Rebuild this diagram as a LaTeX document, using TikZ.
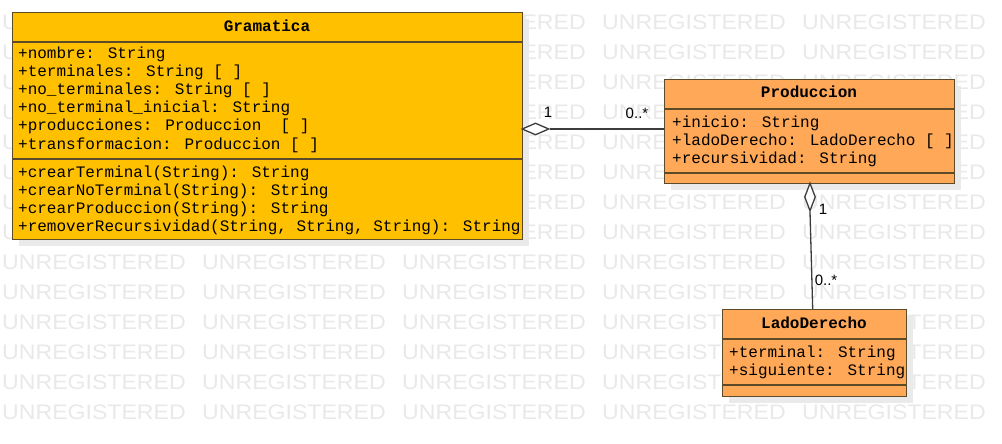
\documentclass[tikz,border=0pt]{standalone}
\usepackage{fontspec}
\setmainfont{Liberation Sans}
\newfontfamily\monof{Liberation Mono}
\usetikzlibrary{shapes.geometric}
\definecolor{gramfill}{RGB}{255,192,0}
\definecolor{prodfill}{RGB}{255,168,88}
\definecolor{edgec}{RGB}{92,74,40}
\definecolor{shadowc}{RGB}{234,234,234}
\definecolor{wmc}{RGB}{233,233,233}
\definecolor{linec}{RGB}{60,60,60}
\tikzset{
 classbox/.style={draw=edgec, line width=1.4pt, inner sep=0pt, anchor=north west},
 shadowbox/.style={fill=shadowc, draw=none, inner sep=0pt, anchor=north west},
 divider/.style={draw=edgec, line width=1.2pt},
 attr/.style={font=\monof\fontsize{16}{18}\selectfont, anchor=base west, inner sep=0pt},
 ctitle/.style={font=\monof\bfseries\fontsize{16}{18}\selectfont, anchor=base, inner sep=0pt},
 wm/.style={font=\fontsize{21}{21}\selectfont, text=wmc, anchor=west, inner sep=0pt, xscale=1.1, transform shape},
 mult/.style={font=\fontsize{15}{15}\selectfont, inner sep=0pt, text=black},
 conn/.style={draw=linec, line width=1.3pt},
 agg/.style={diamond, draw=linec, fill=white, line width=1.3pt, inner sep=0pt},
}
\begin{document}
\begin{tikzpicture}[x=1pt,y=-1pt]
\useasboundingbox (0,0) rectangle (1002,444);
\fill[white] (0,0) rectangle (1002,444);
% watermark
\foreach \r in {0,...,13}{\foreach \c in {0,...,4}{
  \node[wm] (wm-\r-\c) at (2+200*\c, 22+30*\r) {UNREGISTERED};}}
% shadows
\node[shadowbox, minimum width=510, minimum height=227] (gsh) at (19,19) {};
\node[shadowbox, minimum width=290, minimum height=104] (psh) at (671,86) {};
\node[shadowbox, minimum width=184, minimum height=87] (lsh) at (729,316) {};
% Gramatica
\node[classbox, fill=gramfill, minimum width=510, minimum height=227] (gram) at (12,12) {};
\draw[divider] (12,42) -- (522,42);
\draw[divider] (12,159) -- (522,159);
\node[ctitle] (gT) at (267,32) {Gramatica};
\node[attr] (ga1) at (18,59) {+nombre: String};
\node[attr] (ga2) at (18,77) {+terminales: String [ ]};
\node[attr] (ga3) at (18,95) {+no\_terminales: String [ ]};
\node[attr] (ga4) at (18,113) {+no\_terminal\_inicial: String};
\node[attr] (ga5) at (18,131) {+producciones: Produccion\ \ [ ]};
\node[attr] (ga6) at (18,149) {+transformacion: Produccion [ ]};
\node[attr] (gm1) at (18,177) {+crearTerminal(String): String};
\node[attr] (gm2) at (18,195) {+crearNoTerminal(String): String};
\node[attr] (gm3) at (18,213) {+crearProduccion(String): String};
\node[attr] (gm4) at (18,231) {+removerRecursividad(String, String, String): String};
% Produccion
\node[classbox, fill=prodfill, minimum width=290, minimum height=104] (prod) at (664,79) {};
\draw[divider] (664,109) -- (954,109);
\draw[divider] (664,173) -- (954,173);
\node[ctitle] (pT) at (809,98) {Produccion};
\node[attr] (pa1) at (672,127) {+inicio: String};
\node[attr] (pa2) at (672,145) {+ladoDerecho: LadoDerecho [ ]};
\node[attr] (pa3) at (672,163) {+recursividad: String};
% LadoDerecho
\node[classbox, fill=prodfill, minimum width=184, minimum height=87] (lado) at (722,309) {};
\draw[divider] (722,339) -- (906,339);
\draw[divider] (722,385) -- (906,385);
\node[ctitle] (lT) at (814,328) {LadoDerecho};
\node[attr] (la1) at (729,357) {+terminal: String};
\node[attr] (la2) at (729,375) {+siguiente: String};
% connectors
\node[agg, minimum width=27, minimum height=12] (dA) at (535.5,129) {};
\draw[conn] (dA.east) -- (dA.east -| prod.west);
\node[agg, minimum width=11, minimum height=28] (dB) at (810,197) {};
\draw[conn] (dB.south) -- ([xshift=-2pt]lado.north);
\node[mult] (m1) at (548,112) {1};
\node[mult] (m2) at (637,113) {0..*};
\node[mult] (m3) at (823,209) {1};
\node[mult] (m4) at (826,280) {0..*};
\end{tikzpicture}
\end{document}
